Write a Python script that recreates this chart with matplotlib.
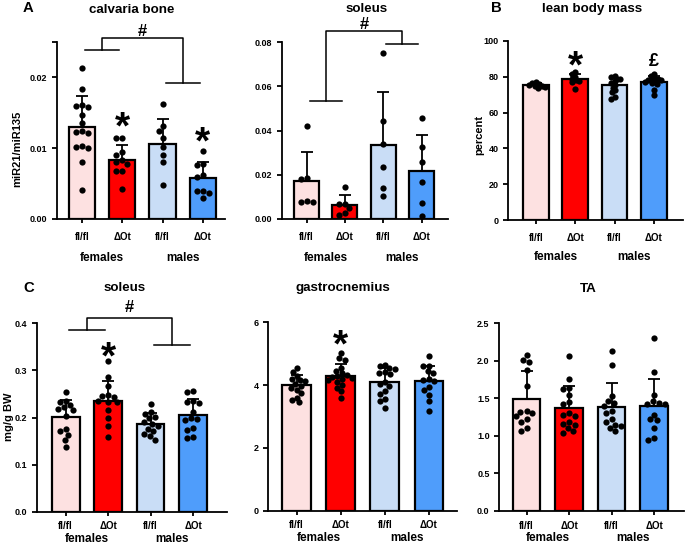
import numpy as np
import matplotlib
matplotlib.use("Agg")
import matplotlib.pyplot as plt

plt.rcParams["font.family"] = ["Liberation Sans", "DejaVu Sans"]
plt.rcParams["font.weight"] = "bold"

# ---------------- data ----------------
GROUP_TICKS = ["fl/fl", "ΔOt", "fl/fl", "ΔOt"]
SEX_LABELS = ["females", "males"]

# A: calvaria bone, miR21/miR135
calv_f_flfl = [0.0213, 0.0184, 0.0161, 0.0160, 0.0158, 0.0147, 0.0136, 0.0124,
               0.0123, 0.0121, 0.0103, 0.0102, 0.0100, 0.0081, 0.0041]
calv_f_dot = [0.0114, 0.0114, 0.0094, 0.0091, 0.0083, 0.0080, 0.0078, 0.0068, 0.0068, 0.0043]
calv_m_flfl = [0.0162, 0.0131, 0.0124, 0.0114, 0.0102, 0.0090, 0.0081, 0.0048]
calv_m_dot = [0.0096, 0.0078, 0.0076, 0.0062, 0.0060, 0.0040, 0.0039, 0.0037, 0.0029]

# A: soleus, miR21/miR135
solA_f_flfl = [0.0420, 0.0187, 0.0182, 0.0075, 0.0083, 0.0078]
solA_f_dot = [0.0146, 0.0070, 0.0066, 0.0050, 0.0027, 0.0020]
solA_m_flfl = [0.0749, 0.0443, 0.0338, 0.0234, 0.0139, 0.0105]
solA_m_dot = [0.0458, 0.0327, 0.0258, 0.0169, 0.0074, 0.0015]

# B: lean body mass, percent
lean_f_flfl = [77.0, 76.5, 76.2, 75.5, 75.0, 74.8, 74.5, 73.5]
lean_f_dot = [82.8, 81.8, 80.0, 79.0, 78.0, 77.8, 77.0, 73.0]
lean_m_flfl = [80.5, 79.8, 79.0, 78.5, 77.5, 76.5, 75.5, 74.0, 72.5, 71.5, 68.8, 67.8]
lean_m_dot = [81.5, 80.5, 79.5, 79.0, 78.5, 78.0, 78.0, 77.5, 77.0, 76.5, 76.0, 72.5, 69.8]

# C: soleus, mg/g BW
solC_f_flfl = [0.255, 0.236, 0.232, 0.226, 0.222, 0.218, 0.215, 0.204, 0.175, 0.172, 0.163, 0.152, 0.138]
solC_f_dot = [0.320, 0.287, 0.266, 0.248, 0.246, 0.244, 0.236, 0.233, 0.232, 0.216, 0.200, 0.181, 0.158]
solC_m_flfl = [0.228, 0.211, 0.207, 0.202, 0.198, 0.190, 0.186, 0.183, 0.176, 0.171, 0.166, 0.160, 0.153]
solC_m_dot = [0.256, 0.254, 0.236, 0.233, 0.230, 0.212, 0.200, 0.197, 0.195, 0.178, 0.174, 0.158, 0.156]

# C: gastrocnemius
gas_f_flfl = [4.55, 4.42, 4.30, 4.20, 4.15, 4.12, 4.05, 3.98, 3.92, 3.85, 3.75, 3.60, 3.52, 3.45]
gas_f_dot = [5.02, 4.85, 4.80, 4.55, 4.45, 4.38, 4.32, 4.28, 4.25, 4.22, 4.18, 4.15, 4.10,
             4.00, 3.92, 3.80, 3.60]
gas_m_flfl = [4.65, 4.60, 4.55, 4.50, 4.42, 4.38, 4.35, 4.10, 4.05, 3.98, 3.80, 3.72, 3.55, 3.50, 3.28]
gas_m_dot = [4.92, 4.62, 4.60, 4.45, 4.40, 4.18, 4.15, 4.12, 3.95, 3.85, 3.70, 3.50, 3.18]

# C: TA
ta_f_flfl = [2.08, 2.01, 1.98, 1.88, 1.66, 1.33, 1.32, 1.30, 1.26, 1.22, 1.18, 1.10, 1.07]
ta_f_dot = [2.06, 1.76, 1.64, 1.63, 1.55, 1.45, 1.42, 1.30, 1.28, 1.26, 1.18, 1.16, 1.14, 1.10, 1.06, 1.04]
ta_m_flfl = [2.13, 1.95, 1.53, 1.46, 1.44, 1.40, 1.33, 1.30, 1.22, 1.18, 1.15, 1.13, 1.10, 1.06]
ta_m_dot = [2.30, 1.85, 1.54, 1.46, 1.44, 1.43, 1.42, 1.28, 1.22, 1.21, 1.10, 0.97, 0.95]

COLORS = ["#FDE1E1", "#FF0000", "#C9DDF6", "#4F9DFB"]

W, H = 685, 546
fig = plt.figure(figsize=(W / 100, H / 100), dpi=100)


def px_axes(l, t, r, b):
    return fig.add_axes([l / W, 1 - b / H, (r - l) / W, (b - t) / H])


def swarm_dx(ax, xc, vals, gap):
    """classic beeswarm in pixel space, returns x offsets in data units"""
    vals = np.asarray(vals, float)
    ypx = ax.transData.transform(np.column_stack([np.full(len(vals), xc), vals]))[:, 1]
    px, py = [], []
    out = np.zeros(len(vals))
    for i in np.argsort(-vals, kind="stable"):
        y = ypx[i]
        cands = [0.0]
        for a, b in zip(px, py):
            dy = abs(b - y)
            if dy < gap:
                d = np.sqrt(gap ** 2 - dy ** 2)
                cands += [a - d, a + d]
        cands.sort(key=lambda c: (abs(c), c))
        for c in cands:
            if all((c - a) ** 2 + (y - b) ** 2 >= gap ** 2 - 1e-6 for a, b in zip(px, py)):
                break
        px.append(c); py.append(y); out[i] = c
    unit = ax.transData.transform((1, 0))[0] - ax.transData.transform((0, 0))[0]
    return out / unit


def panel(ax, groups, ylim, yticks, ylabels, xlim, tick_pad, sex_off, gap=6.2):
    x = np.arange(4)
    means = [np.mean(g) for g in groups]
    sds = [np.std(g, ddof=1) for g in groups]
    ax.set_xlim(*xlim)
    ax.set_ylim(*ylim)
    ax.bar(x, means, width=0.65, color=COLORS, edgecolor="black", linewidth=1.6, zorder=2)
    ax.errorbar(x, means, yerr=[np.zeros(4), sds], fmt="none", ecolor="black",
                elinewidth=1.3, capsize=4, capthick=1.3, zorder=3)
    for xi, g in zip(x, groups):
        dx = swarm_dx(ax, xi, g, gap)
        ax.plot(xi + dx, g, "o", color="black", ms=4.5, mew=0, zorder=4, clip_on=False)
    for s in ("top", "right"):
        ax.spines[s].set_visible(False)
    for s in ("left", "bottom"):
        ax.spines[s].set_linewidth(1.3)
    ax.set_yticks(yticks, ylabels)
    ax.set_xticks(x, GROUP_TICKS)
    ax.tick_params(axis="y", width=1.3, length=3.5, pad=3.5, labelsize=6.5)
    ax.tick_params(axis="x", width=1.3, length=3.0, pad=tick_pad, labelsize=7)
    for gx, lab in zip([0.5, 2.5], SEX_LABELS):
        ax.annotate(lab, xy=(gx, 0), xycoords=("data", "axes fraction"),
                    xytext=(0, -sex_off), textcoords="offset points",
                    ha="center", va="baseline", fontsize=8.5, fontweight="bold")


def bracket(ax, y_left, y_right, y_top, y_hash):
    kw = dict(color="black", lw=1.1, clip_on=False, zorder=5)
    ax.plot([0.08, 0.92], [y_left, y_left], **kw)
    ax.plot([2.08, 2.92], [y_right, y_right], **kw)
    ax.plot([0.5, 0.5, 2.5, 2.5], [y_left, y_top, y_top, y_right], **kw)
    ax.text(1.5, y_hash, "#", ha="center", va="baseline", fontsize=12, fontweight="bold")


def mark(ax, x, y, s="*", size=28):
    ax.text(x, y, s, ha="center", va="top", fontsize=size, fontweight="bold", clip_on=False)


def ftext(x, y, s, size, **kw):
    fig.text(x / W, 1 - y / H, s, fontsize=size, fontweight="bold", **kw)


# ---- A: calvaria bone ----
ax = px_axes(57, 42, 225, 219)
panel(ax, [calv_f_flfl, calv_f_dot, calv_m_flfl, calv_m_dot], (0, 0.025),
      [0, 0.01, 0.02, 0.025], ["0.00", "0.01", "0.02", ""], (-0.62, 3.55), 6.7, 29.9)
bracket(ax, 0.0238, 0.0192, 0.0255, 0.0259)
mark(ax, 1, 0.01535)
mark(ax, 3, 0.01324)

# ---- A: soleus ----
ax = px_axes(281.7, 42, 448, 219)
panel(ax, [solA_f_flfl, solA_f_dot, solA_m_flfl, solA_m_dot], (0, 0.08),
      [0, 0.02, 0.04, 0.06, 0.08], ["0.00", "0.02", "0.04", "0.06", "0.08"],
      (-0.65, 3.69), 6.7, 29.9)
bracket(ax, 0.0533, 0.0791, 0.085, 0.0858)

# ---- B: lean body mass ----
ax = px_axes(508.3, 41, 683, 220)
panel(ax, [lean_f_flfl, lean_f_dot, lean_m_flfl, lean_m_dot], (0, 100),
      [0, 20, 40, 60, 80, 100], ["0", "20", "40", "60", "80", "100"],
      (-0.70, 3.74), 6.7, 28.8, gap=3.6)
mark(ax, 1, 95.0)
mark(ax, 3, 93.1, "£", 13)

# ---- C: soleus ----
ax = px_axes(37.3, 323.3, 227, 511.7)
panel(ax, [solC_f_flfl, solC_f_dot, solC_m_flfl, solC_m_dot], (0, 0.4),
      [0, 0.1, 0.2, 0.3, 0.4], ["0.0", "0.1", "0.2", "0.3", "0.4"],
      (-0.67, 3.80), 4.0, 21.5)
bracket(ax, 0.386, 0.354, 0.4106, 0.4246)
mark(ax, 1, 0.3645)

# ---- C: gastrocnemius ----
ax = px_axes(268.3, 322.3, 456.7, 510.7)
panel(ax, [gas_f_flfl, gas_f_dot, gas_m_flfl, gas_m_dot], (0, 6),
      [0, 2, 4, 6], ["0", "2", "4", "6"], (-0.64, 3.63), 4.0, 21.5, gap=5.5)
mark(ax, 1, 5.81)

# ---- C: TA ----
ax = px_axes(499.3, 323.3, 684, 511)
panel(ax, [ta_f_flfl, ta_f_dot, ta_m_flfl, ta_m_dot], (0, 2.5),
      [0, 0.5, 1.0, 1.5, 2.0, 2.5], ["0.0", "0.5", "1.0", "1.5", "2.0", "2.5"],
      (-0.64, 3.70), 4.0, 21.5)

# titles, panel letters, y labels
ftext(131.7, 12.7, "calvaria bone", 9.6, ha="center", va="baseline")
ftext(366.7, 11.7, "soleus", 9.6, ha="center", va="baseline")
ftext(592, 12.0, "lean body mass", 9.6, ha="center", va="baseline")
ftext(125, 291, "soleus", 9.6, ha="center", va="baseline")
ftext(343, 291, "gastrocnemius", 9.6, ha="center", va="baseline")
ftext(588, 291.7, "TA", 9.6, ha="center", va="baseline")
ftext(28, 11.7, "A", 10.7, ha="center", va="baseline")
ftext(496.7, 11.7, "B", 10.7, ha="center", va="baseline")
ftext(28.3, 291.7, "C", 10.7, ha="center", va="baseline")
ftext(17.3, 149, "miR21/miR135", 8, ha="center", va="center", rotation=90)
ftext(479, 135, "percent", 8, ha="center", va="center", rotation=90)
ftext(9.3, 416.7, "mg/g BW", 8, ha="center", va="center", rotation=90)

fig.savefig("out.png", dpi=100)
